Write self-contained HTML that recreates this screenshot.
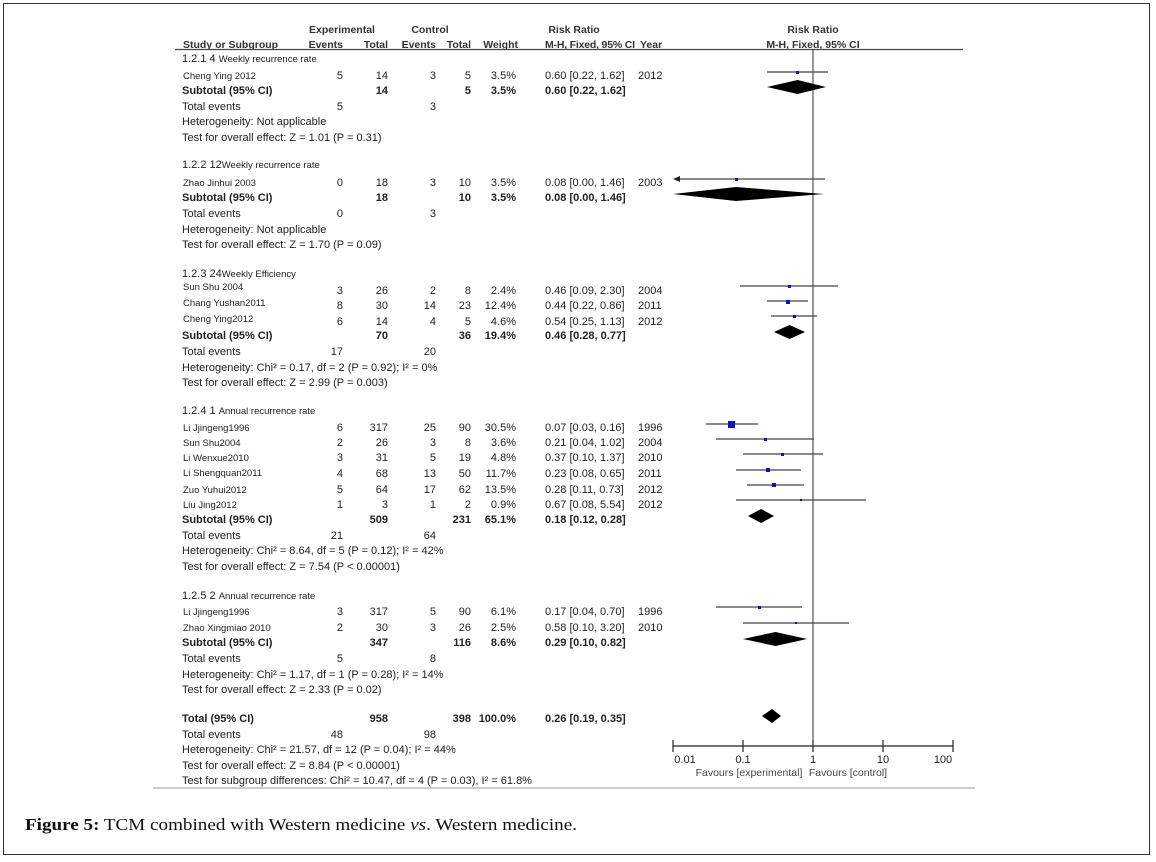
<!DOCTYPE html>
<html><head><meta charset="utf-8"><style>
html,body{margin:0;padding:0;background:#fff}
svg{display:block}
text{font-family:"Liberation Sans",Arial,sans-serif;fill:#222;font-size:11px}
.b{font-weight:bold}
.h{font-size:10.5px;fill:#333}
.s{font-size:9.5px}
.r{text-anchor:end}
.m{text-anchor:middle}
.cap{font-family:"Liberation Serif",serif;font-size:17px;fill:#111}
</style></head><body>
<svg width="1156" height="862" viewBox="0 0 1156 862" xmlns="http://www.w3.org/2000/svg">
<rect x="3.5" y="3.5" width="1146" height="851" fill="none" stroke="#333" stroke-width="1"/>
<line x1="153" y1="788" x2="975" y2="788" stroke="#ccc" stroke-width="2"/>

<!-- header -->
<text x="342" y="33" class="b m h">Experimental</text>
<text x="430" y="33" class="b m h">Control</text>
<text x="574" y="33" class="b m h">Risk Ratio</text>
<text x="813" y="33" class="b m h">Risk Ratio</text>
<text x="183" y="48" class="b h">Study or Subgroup</text>
<text x="343" y="48" class="b r h">Events</text>
<text x="388" y="48" class="b r h">Total</text>
<text x="436" y="48" class="b r h">Events</text>
<text x="471" y="48" class="b r h">Total</text>
<text x="518" y="48" class="b r h">Weight</text>
<text x="545" y="48" class="b h" textLength="90">M-H, Fixed, 95% CI</text>
<text x="640" y="48" class="b h">Year</text>
<text x="813" y="48" class="b m h">M-H, Fixed, 95% CI</text>
<line x1="175" y1="49.5" x2="963" y2="49.5" stroke="#444" stroke-width="1.2"/>

<!-- group 1 -->
<text x="182" y="62">1.2.1 4 <tspan class="s">Weekly recurrence rate</tspan></text>
<text x="183" y="79" class="s">Cheng Ying 2012</text>
<text x="343" y="79" class="r">5</text><text x="388" y="79" class="r">14</text><text x="436" y="79" class="r">3</text><text x="471" y="79" class="r">5</text><text x="516" y="79" class="r">3.5%</text><text x="545" y="79">0.60 [0.22, 1.62]</text><text x="638" y="79">2012</text>
<text x="182" y="94" class="b">Subtotal (95% CI)</text><text x="388" y="94" class="b r">14</text><text x="471" y="94" class="b r">5</text><text x="516" y="94" class="b r">3.5%</text><text x="545" y="94" class="b">0.60 [0.22, 1.62]</text>
<text x="182" y="110">Total events</text><text x="343" y="110" class="r">5</text><text x="436" y="110" class="r">3</text>
<text x="182" y="125">Heterogeneity: Not applicable</text>
<text x="182" y="141">Test for overall effect: Z = 1.01 (P = 0.31)</text>

<!-- group 2 -->
<text x="182" y="168">1.2.2 12<tspan class="s">Weekly recurrence rate</tspan></text>
<text x="183" y="186" class="s">Zhao Jinhui 2003</text>
<text x="343" y="186" class="r">0</text><text x="388" y="186" class="r">18</text><text x="436" y="186" class="r">3</text><text x="471" y="186" class="r">10</text><text x="516" y="186" class="r">3.5%</text><text x="545" y="186">0.08 [0.00, 1.46]</text><text x="638" y="186">2003</text>
<text x="182" y="201" class="b">Subtotal (95% CI)</text><text x="388" y="201" class="b r">18</text><text x="471" y="201" class="b r">10</text><text x="516" y="201" class="b r">3.5%</text><text x="545" y="201" class="b">0.08 [0.00, 1.46]</text>
<text x="182" y="217">Total events</text><text x="343" y="217" class="r">0</text><text x="436" y="217" class="r">3</text>
<text x="182" y="233">Heterogeneity: Not applicable</text>
<text x="182" y="248">Test for overall effect: Z = 1.70 (P = 0.09)</text>

<!-- group 3 -->
<text x="182" y="277">1.2.3 24<tspan class="s">Weekly Efficiency</tspan></text>
<text x="183" y="290" class="s">Sun Shu 2004</text>
<text x="343" y="294" class="r">3</text><text x="388" y="294" class="r">26</text><text x="436" y="294" class="r">2</text><text x="471" y="294" class="r">8</text><text x="516" y="294" class="r">2.4%</text><text x="545" y="294">0.46 [0.09, 2.30]</text><text x="638" y="294">2004</text>
<text x="183" y="306" class="s">Chang Yushan2011</text>
<text x="343" y="309" class="r">8</text><text x="388" y="309" class="r">30</text><text x="436" y="309" class="r">14</text><text x="471" y="309" class="r">23</text><text x="516" y="309" class="r">12.4%</text><text x="545" y="309">0.44 [0.22, 0.86]</text><text x="638" y="309">2011</text>
<text x="183" y="322" class="s">Cheng Ying2012</text>
<text x="343" y="325" class="r">6</text><text x="388" y="325" class="r">14</text><text x="436" y="325" class="r">4</text><text x="471" y="325" class="r">5</text><text x="516" y="325" class="r">4.6%</text><text x="545" y="325">0.54 [0.25, 1.13]</text><text x="638" y="325">2012</text>
<text x="182" y="339" class="b">Subtotal (95% CI)</text><text x="388" y="339" class="b r">70</text><text x="471" y="339" class="b r">36</text><text x="516" y="339" class="b r">19.4%</text><text x="545" y="339" class="b">0.46 [0.28, 0.77]</text>
<text x="182" y="355">Total events</text><text x="343" y="355" class="r">17</text><text x="436" y="355" class="r">20</text>
<text x="182" y="371">Heterogeneity: Chi² = 0.17, df = 2 (P = 0.92); I² = 0%</text>
<text x="182" y="386">Test for overall effect: Z = 2.99 (P = 0.003)</text>

<!-- group 4 -->
<text x="182" y="414">1.2.4 1 <tspan class="s">Annual recurrence rate</tspan></text>
<text x="183" y="431" class="s">Li Jjingeng1996</text>
<text x="343" y="431" class="r">6</text><text x="388" y="431" class="r">317</text><text x="436" y="431" class="r">25</text><text x="471" y="431" class="r">90</text><text x="516" y="431" class="r">30.5%</text><text x="545" y="431">0.07 [0.03, 0.16]</text><text x="638" y="431">1996</text>
<text x="183" y="446" class="s">Sun Shu2004</text>
<text x="343" y="446" class="r">2</text><text x="388" y="446" class="r">26</text><text x="436" y="446" class="r">3</text><text x="471" y="446" class="r">8</text><text x="516" y="446" class="r">3.6%</text><text x="545" y="446">0.21 [0.04, 1.02]</text><text x="638" y="446">2004</text>
<text x="183" y="461" class="s">Li Wenxue2010</text>
<text x="343" y="461" class="r">3</text><text x="388" y="461" class="r">31</text><text x="436" y="461" class="r">5</text><text x="471" y="461" class="r">19</text><text x="516" y="461" class="r">4.8%</text><text x="545" y="461">0.37 [0.10, 1.37]</text><text x="638" y="461">2010</text>
<text x="183" y="476" class="s">Li Shengquan2011</text>
<text x="343" y="477" class="r">4</text><text x="388" y="477" class="r">68</text><text x="436" y="477" class="r">13</text><text x="471" y="477" class="r">50</text><text x="516" y="477" class="r">11.7%</text><text x="545" y="477">0.23 [0.08, 0.65]</text><text x="638" y="477">2011</text>
<text x="183" y="493" class="s">Zuo Yuhui2012</text>
<text x="343" y="493" class="r">5</text><text x="388" y="493" class="r">64</text><text x="436" y="493" class="r">17</text><text x="471" y="493" class="r">62</text><text x="516" y="493" class="r">13.5%</text><text x="545" y="493">0.28 [0.11, 0.73]</text><text x="638" y="493">2012</text>
<text x="183" y="508" class="s">Liu Jing2012</text>
<text x="343" y="508" class="r">1</text><text x="388" y="508" class="r">3</text><text x="436" y="508" class="r">1</text><text x="471" y="508" class="r">2</text><text x="516" y="508" class="r">0.9%</text><text x="545" y="508">0.67 [0.08, 5.54]</text><text x="638" y="508">2012</text>
<text x="182" y="523" class="b">Subtotal (95% CI)</text><text x="388" y="523" class="b r">509</text><text x="471" y="523" class="b r">231</text><text x="516" y="523" class="b r">65.1%</text><text x="545" y="523" class="b">0.18 [0.12, 0.28]</text>
<text x="182" y="539">Total events</text><text x="343" y="539" class="r">21</text><text x="436" y="539" class="r">64</text>
<text x="182" y="554">Heterogeneity: Chi² = 8.64, df = 5 (P = 0.12); I² = 42%</text>
<text x="182" y="570">Test for overall effect: Z = 7.54 (P &lt; 0.00001)</text>

<!-- group 5 -->
<text x="182" y="599">1.2.5 2 <tspan class="s">Annual recurrence rate</tspan></text>
<text x="183" y="615" class="s">Li Jjingeng1996</text>
<text x="343" y="615" class="r">3</text><text x="388" y="615" class="r">317</text><text x="436" y="615" class="r">5</text><text x="471" y="615" class="r">90</text><text x="516" y="615" class="r">6.1%</text><text x="545" y="615">0.17 [0.04, 0.70]</text><text x="638" y="615">1996</text>
<text x="183" y="631" class="s">Zhao Xingmiao 2010</text>
<text x="343" y="631" class="r">2</text><text x="388" y="631" class="r">30</text><text x="436" y="631" class="r">3</text><text x="471" y="631" class="r">26</text><text x="516" y="631" class="r">2.5%</text><text x="545" y="631">0.58 [0.10, 3.20]</text><text x="638" y="631">2010</text>
<text x="182" y="646" class="b">Subtotal (95% CI)</text><text x="388" y="646" class="b r">347</text><text x="471" y="646" class="b r">116</text><text x="516" y="646" class="b r">8.6%</text><text x="545" y="646" class="b">0.29 [0.10, 0.82]</text>
<text x="182" y="662">Total events</text><text x="343" y="662" class="r">5</text><text x="436" y="662" class="r">8</text>
<text x="182" y="678">Heterogeneity: Chi² = 1.17, df = 1 (P = 0.28); I² = 14%</text>
<text x="182" y="693">Test for overall effect: Z = 2.33 (P = 0.02)</text>

<!-- total -->
<text x="182" y="722" class="b">Total (95% CI)</text><text x="388" y="722" class="b r">958</text><text x="471" y="722" class="b r">398</text><text x="516" y="722" class="b r">100.0%</text><text x="545" y="722" class="b">0.26 [0.19, 0.35]</text>
<text x="182" y="738">Total events</text><text x="343" y="738" class="r">48</text><text x="436" y="738" class="r">98</text>
<text x="182" y="753">Heterogeneity: Chi² = 21.57, df = 12 (P = 0.04); I² = 44%</text>
<text x="182" y="769">Test for overall effect: Z = 8.84 (P &lt; 0.00001)</text>
<text x="182" y="784">Test for subgroup differences: Chi² = 10.47, df = 4 (P = 0.03), I² = 61.8%</text>

<!-- plot -->
<line x1="813" y1="49" x2="813" y2="746" stroke="#333" stroke-width="1"/>
<g stroke="#444" stroke-width="1.2">
<line x1="767" y1="72" x2="828" y2="72"/>
<line x1="676" y1="179" x2="825" y2="179"/>
<line x1="740" y1="286" x2="838" y2="286"/>
<line x1="767" y1="301" x2="808" y2="301"/>
<line x1="771" y1="316" x2="817" y2="316"/>
<line x1="706" y1="424" x2="758" y2="424"/>
<line x1="716" y1="439" x2="814" y2="439"/>
<line x1="743" y1="454" x2="823" y2="454"/>
<line x1="736" y1="470" x2="801" y2="470"/>
<line x1="747" y1="485" x2="804" y2="485"/>
<line x1="736" y1="500" x2="866" y2="500"/>
<line x1="716" y1="607" x2="802" y2="607"/>
<line x1="743" y1="623" x2="849" y2="623"/>
</g>
<polygon points="673,179 680,176 680,182" fill="#222"/>
<g fill="#1010c8">
<rect x="796" y="71" width="3" height="3"/>
<rect x="735" y="178" width="3" height="3"/>
<rect x="788" y="285" width="3" height="3"/>
<rect x="786" y="300" width="4" height="4"/>
<rect x="793" y="315" width="3" height="3"/>
<rect x="728" y="421" width="7" height="7"/>
<rect x="764" y="438" width="3" height="3"/>
<rect x="781" y="453" width="3" height="3"/>
<rect x="766" y="468" width="4" height="4"/>
<rect x="772" y="483" width="4" height="4"/>
<rect x="800" y="499" width="2" height="2"/>
<rect x="758" y="606" width="3" height="3"/>
<rect x="795" y="622" width="2" height="2"/>
</g>
<g fill="#000">
<polygon points="767,87 797.5,80 826,87 797.5,94"/>
<polygon points="673,194 736,187 824,194 736,201"/>
<polygon points="774,332 789.5,325 805,332 789.5,339"/>
<polygon points="748,516 761,509 774,516 761,523"/>
<polygon points="743,639 775.5,632 807,639 775.5,646"/>
<polygon points="762,716 772,709 781,716 772,723"/>
</g>
<!-- axis -->
<g stroke="#222" stroke-width="1.2">
<line x1="673" y1="746" x2="953" y2="746"/>
<line x1="673" y1="740" x2="673" y2="752"/>
<line x1="743" y1="740" x2="743" y2="752"/>
<line x1="813" y1="740" x2="813" y2="752"/>
<line x1="883" y1="740" x2="883" y2="752"/>
<line x1="953" y1="740" x2="953" y2="752"/>
</g>
<text x="685" y="763" class="m">0.01</text>
<text x="743" y="763" class="m">0.1</text>
<text x="813" y="763" class="m">1</text>
<text x="883" y="763" class="m">10</text>
<text x="943" y="763" class="m">100</text>
<text x="749" y="776" class="m" style="fill:#444;font-size:10.5px">Favours [experimental]</text>
<text x="848" y="776" class="m" style="fill:#444;font-size:10.5px">Favours [control]</text>

<text x="25" y="830" class="cap" textLength="552" lengthAdjust="spacingAndGlyphs"><tspan font-weight="bold">Figure 5:</tspan> TCM combined with Western medicine <tspan font-style="italic">vs</tspan>. Western medicine.</text>
</svg>
</body></html>
